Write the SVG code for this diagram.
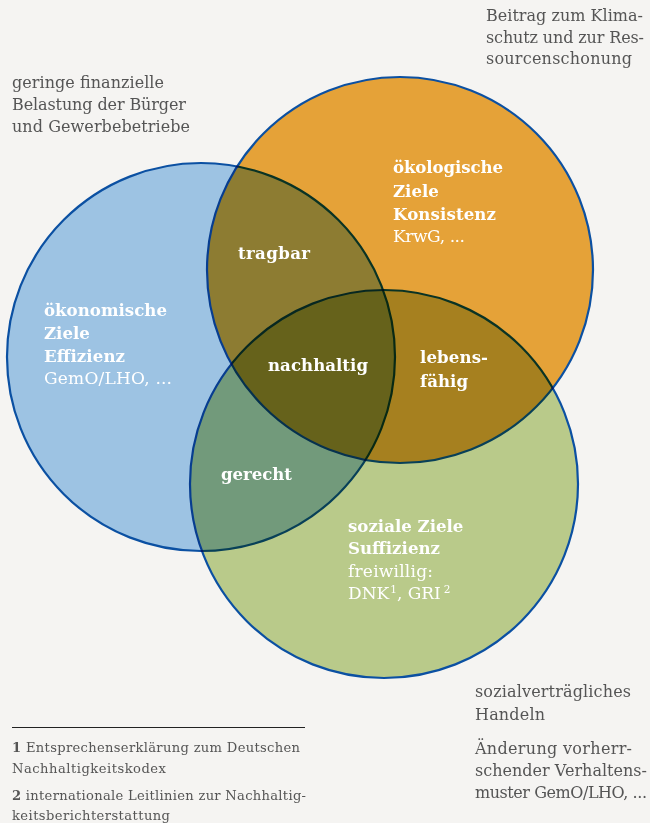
<svg xmlns="http://www.w3.org/2000/svg" width="650" height="823" viewBox="0 0 650 823">
<style>
.c{stroke:#0b50a2;stroke-width:2.2;mix-blend-mode:multiply}
.t{font-family:"DejaVu Serif","Liberation Serif",serif;font-size:16px;fill:#555555}
.f{font-family:"DejaVu Serif","Liberation Serif",serif;font-size:13.1px;fill:#555555}
.w{font-family:"DejaVu Serif","Liberation Serif",serif;font-size:16.6px;fill:#fff}
.r{font-size:17px}
.b{font-weight:bold}
</style>
<rect width="650" height="823" fill="#f5f4f2"/>
<g id="circles" style="isolation:isolate">
<g id="oekonomisch"><circle class="c" cx="201" cy="357" r="194" fill="#9dc3e3"/></g>
<g id="oekologisch"><circle class="c" cx="400" cy="270" r="193" fill="#e5a238"/></g>
<g id="sozial"><circle class="c" cx="384" cy="484" r="194" fill="#b9ca8a"/></g>
</g>
<g id="labels">
<g id="label-oekonomisch" class="w">
<text x="44" y="316" class="b" textLength="123">ökonomische</text>
<text x="44" y="339" class="b">Ziele</text>
<text x="44" y="362" class="b" textLength="81">Effizienz</text>
<text x="44" y="384" class="r" textLength="128">GemO/LHO, ...</text>
</g>
<g id="label-oekologisch" class="w">
<text x="393" y="173" class="b" textLength="110">ökologische</text>
<text x="393" y="197" class="b">Ziele</text>
<text x="393" y="220" class="b" textLength="103">Konsistenz</text>
<text x="393" y="242" class="r" textLength="72">KrwG, ...</text>
</g>
<g id="label-sozial" class="w">
<text x="348" y="532" class="b">soziale Ziele</text>
<text x="348" y="554" class="b" textLength="92">Suffizienz</text>
<text x="348" y="577" class="r" textLength="85">freiwillig:</text>
<text x="348" y="599" class="r">DNK<tspan font-size="10.5" dy="-6" dx="1">1</tspan><tspan dy="6">, GRI</tspan><tspan font-size="10.5" dy="-6" dx="3">2</tspan></text>
</g>
<g id="tragbar" class="w"><text x="238" y="259" class="b" textLength="72">tragbar</text></g>
<g id="nachhaltig" class="w"><text x="268" y="371" class="b" textLength="100">nachhaltig</text></g>
<g id="lebensfaehig" class="w"><text x="420" y="363" class="b" textLength="68">lebens-</text><text x="420" y="387" class="b" textLength="48">fähig</text></g>
<g id="gerecht" class="w"><text x="221" y="480" class="b" textLength="71">gerecht</text></g>
</g>
<g id="notes">
<g id="note-topleft" class="t">
<text x="12" y="88" textLength="152">geringe finanzielle</text>
<text x="12" y="110" textLength="174">Belastung der Bürger</text>
<text x="12" y="132" textLength="178">und Gewerbebetriebe</text>
</g>
<g id="note-topright" class="t">
<text x="486" y="21" textLength="157">Beitrag zum Klima-</text>
<text x="486" y="43" textLength="158">schutz und zur Res-</text>
<text x="486" y="64" textLength="146">sourcenschonung</text>
</g>
<g id="note-bottomright" class="t">
<text x="475" y="697" textLength="156">sozialverträgliches</text>
<text x="475" y="720" textLength="70">Handeln</text>
<text x="475" y="754" textLength="157">Änderung vorherr-</text>
<text x="475" y="776" textLength="172">schender Verhaltens-</text>
<text x="475" y="798" textLength="172">muster GemO/LHO, ...</text>
</g>
<g id="footnotes" class="f">
<line x1="12" y1="727.5" x2="305" y2="727.5" stroke="#222" stroke-width="1"/>
<text x="12" y="752" textLength="288"><tspan class="b">1</tspan> Entsprechenserklärung zum Deutschen</text>
<text x="12" y="773" textLength="154">Nachhaltigkeitskodex</text>
<text x="12" y="800" textLength="294"><tspan class="b">2</tspan> internationale Leitlinien zur Nachhaltig-</text>
<text x="12" y="820" textLength="158">keitsberichterstattung</text>
</g>
</g>
</svg>
